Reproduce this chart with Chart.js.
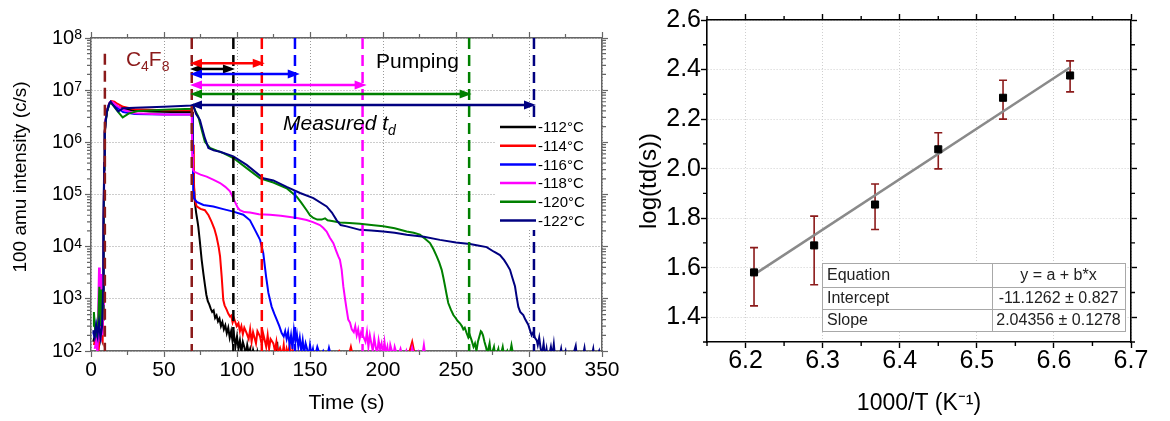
<!DOCTYPE html>
<html>
<head>
<meta charset="utf-8">
<script src="https://cdn.jsdelivr.net/npm/chart.js@4.4.1/dist/chart.umd.min.js"></script>
<style>
    body { margin: 0; background: #fff; }
    .painel { position: absolute; top: 0; }
</style>
</head>
<body>
<canvas id="graficoTempo" class="painel" style="left:0" width="625" height="421"></canvas>
<canvas id="graficoArrhenius" class="painel" style="left:625px" width="545" height="421"></canvas>
<script>
// ---------- dados do painel esquerdo (espectro de massa 100 amu) ----------
const temperaturas = ['-112°C', '-114°C', '-116°C', '-118°C', '-120°C', '-122°C'];
const ticksTempo = [0, 50, 100, 150, 200, 250, 300, 350];
const ticksIntensidade = [1e2, 1e3, 1e4, 1e5, 1e6, 1e7, 1e8];

// [tempo (s), intensidade (c/s)]
const serie112 = [[1.5,150],[3,220],[4.5,130],[6,260],[7.5,170],[8.3,400],[8.7,2e4],[9,3e5],[9.4,1.5e6],[10,2.6e6],[11,4e6],[12.5,5.5e6],[13.5,6e6],[15,5.5e6],[18,4.8e6],[25,4.2e6],[40,3.9e6],[55,3.8e6],[69.3,3.8e6],[69.8,8e5],[70.4,1.6e5],[71.2,6.8e4],[72,4.5e4],[73,3e4],[73.5,2.4e4],[74.5,1.3e4],[75.8,5.6e3],[77,3e3],[78.1,1.8e3],[79,1.2e3],[80,900],[81,780],[82,650],[83,560],[84,600],[85,430],[86,480],[87,370],[88,420],[89,300],[90,360],[91,260],[92,310],[93,220],[94,280],[95,180],[96,240],[97,150],[98,200],[99,125],[100,190],[101,110],[102,160],[103,95],[104,150],[105,120],[106,85],[107,130],[108,90],[109,110],[110,75],[111,105],[112,80],[113,60],[114,95],[115,70],[116,50],[118,80],[120,60],[122,90],[124,55],[126,70],[127.5,150],[128.5,60],[130,80],[132,50],[134,60]];
const serie114 = [[2,130],[3.5,200],[5,90],[6.5,230],[8,160],[8.6,1.5e4],[9,3e5],[9.4,1.5e6],[10,2.7e6],[11,4.2e6],[12.5,5.6e6],[14,6.2e6],[16,6e6],[18,5.5e6],[22,4.8e6],[30,4.3e6],[50,4.1e6],[69.4,4.1e6],[69.9,9e5],[70.4,2e5],[71,8e4],[72.4,5.9e4],[75,5.3e4],[78,5e4],[80.5,4e4],[82.6,3e4],[84.5,2.2e4],[86,1.55e4],[87.4,1e4],[88.4,6.5e3],[89.5,2.7e3],[90.6,950],[91.5,750],[92.9,620],[94,520],[95.2,460],[96,480],[97,350],[98,420],[99.8,300],[101,340],[102,240],[103,300],[104,210],[105,280],[106.6,220],[108,170],[109,260],[110,150],[111,230],[112,180],[113,140],[114,240],[115.8,190],[117,130],[118,210],[119,160],[120,120],[121,200],[122,110],[123,170],[124.9,140],[126,100],[127,150],[128,90],[129.5,115],[131,80],[132,130],[133,70],[134,110],[135,85],[136,130],[137,60],[138,105],[140,75],[142,95],[145,60],[150,80],[155,50],[160,90],[165,60],[170,100],[175,55],[178,120],[180,65],[185,80],[190,50],[200,70],[210,60],[218,95],[220,150],[222,80],[226,60],[230,70]];
const serie116 = [[1.5,230],[2.5,180],[3.5,290],[4.5,160],[5.5,300],[6.5,200],[7.5,350],[8.2,600],[8.6,2e4],[9,3e5],[9.4,1.5e6],[10,2.6e6],[11,4e6],[12.5,5.5e6],[13.5,6e6],[15,5.6e6],[18,4.6e6],[22,3.8e6],[30,3.5e6],[50,3.4e6],[69.3,3.4e6],[69.7,1e6],[70,1.15e5],[70.5,8.5e4],[72.4,7.2e4],[77,6.3e4],[83.8,5.9e4],[90.6,5.25e4],[97.5,4.7e4],[104.3,4.1e4],[108.9,3.2e4],[112.3,2.1e4],[115.8,1.35e4],[118,7.5e3],[119.9,2.7e3],[121.5,1.3e3],[123.7,710],[125.5,520],[127.2,400],[129,300],[130.6,220],[132,190],[133,240],[134,170],[135,230],[136,130],[137,200],[138,110],[139,250],[140,150],[141,210],[142,120],[143,180],[144,100],[145,160],[146,90],[147,140],[148,110],[149,75],[150,130],[151,85],[152,110],[153,70],[155,120],[157,80],[159,100],[161,65],[163,115],[165,70],[167,90],[169,60],[170,50]];
const serie118 = [[2.5,110],[3.5,150],[4.5,90],[5,800],[5.5,4000],[6,1200],[6.5,150],[7.2,3000],[7.8,200],[8.4,800],[8.8,3e4],[9.1,3e5],[9.5,1.5e6],[10,2.6e6],[11,4e6],[12.5,5.5e6],[13.5,6e6],[15,5.8e6],[18,5e6],[22,4.2e6],[30,3.6e6],[50,3.4e6],[69,3.4e6],[69.3,6e5],[69.8,3e5],[70.5,2.75e5],[75,2.4e5],[79.2,2.2e5],[84,1.9e5],[88.4,1.66e5],[92,1.4e5],[95.2,1.15e5],[97,9e4],[98.6,7.2e4],[100.5,5.6e4],[102,5e4],[105,4.6e4],[108.9,4.5e4],[115,4.2e4],[122.6,4.07e4],[130,3.9e4],[136.3,3.7e4],[142,3.5e4],[147.7,3.25e4],[152,2.95e4],[156.8,2.6e4],[159,2.3e4],[161.4,1.95e4],[163.5,1.5e4],[166,1.17e4],[167.8,8.5e3],[169.4,6.5e3],[170.5,5.6e3],[171.7,3.6e3],[172.8,1.75e3],[174,1e3],[175,650],[176.2,400],[177.4,350],[178.6,260],[180,230],[181,300],[182,200],[183,260],[184,170],[185,230],[186.5,190],[188,150],[189,230],[190,120],[191,200],[192,140],[193,100],[194,180],[195,120],[196,90],[197,160],[198,110],[199,140],[200,85],[201,150],[202,90],[203,120],[204,70],[205,130],[207,80],[208,120],[210,75],[212,110],[214,65],[216,100],[218,60],[220,115],[222,70],[224,95],[226,55],[228,130],[229,80],[231,60]];
const serie120 = [[1.5,300],[2,560],[2.8,250],[4,200],[5,400],[5.7,1700],[6.3,300],[7,1500],[7.8,400],[8.3,900],[8.7,2e4],[9,3e5],[9.4,1.4e6],[10,2.4e6],[11,3.8e6],[12.5,5.3e6],[13.5,5.8e6],[15,5.2e6],[18,4e6],[21.7,3e6],[26,3.6e6],[32,4e6],[50,4.2e6],[69.3,4.4e6],[70,5e6],[71.5,4e6],[73.5,3.1e6],[75.8,1.74e6],[78,1.02e6],[81.5,7.8e5],[90.6,6.2e5],[97.5,5e5],[106.6,3.2e5],[115.8,2.05e5],[124.9,1.7e5],[134,1.32e5],[140.9,9.1e4],[144,7e4],[147.7,5e4],[150,4e4],[152.3,3.55e4],[155,3.3e4],[158,3.3e4],[160.3,3.5e4],[162,3.2e4],[165,3.1e4],[170.5,2.9e4],[177,2.85e4],[184.2,2.75e4],[192,2.6e4],[200.2,2.45e4],[208,2.25e4],[216.2,1.95e4],[221,1.85e4],[225.3,1.7e4],[229,1.4e4],[232.2,1.17e4],[234.5,9e3],[236.8,6.5e3],[238.5,5e3],[240.2,3.6e3],[241.4,2.5e3],[242.5,1.74e3],[243.6,1.2e3],[244.7,830],[246.5,620],[248.2,490],[250,420],[251,380],[252.7,340],[254,300],[255,260],[256,280],[257.3,220],[258.5,180],[259.5,200],[260.7,160],[262,120],[263,140],[264,100],[265,150],[266,190],[267,240],[267.6,230],[268.5,200],[269.5,150],[270.5,120],[271.5,90],[273,140],[274,80],[276,120],[277,75],[279,110],[280,70],[282,120],[283,80],[285,100],[286,65],[288,130],[289,90],[290,70]];
const serie122 = [[1.5,250],[2.5,190],[3.5,320],[4.5,200],[5.5,350],[6.5,180],[7.5,280],[8.3,1500],[8.6,3e4],[9,4e5],[9.5,1.7e6],[10.2,2.7e6],[11,4e6],[12.5,5.5e6],[13.5,6e6],[15,5.2e6],[18.7,3.9e6],[22,4.5e6],[30,4.6e6],[50,4.8e6],[69.3,5.1e6],[70,5.2e6],[72,3.5e6],[74.6,2.7e6],[76.5,1.7e6],[78,1.2e6],[80.4,7.8e5],[84,7e5],[88.4,6.6e5],[97.5,5.4e5],[106.6,3.7e5],[118,2.05e5],[124.9,1.86e5],[134,1.4e5],[143.2,1.07e5],[152.3,8.5e4],[161.4,5.9e4],[165,4.5e4],[168.3,3.2e4],[171,2.6e4],[175.1,2.45e4],[184.2,2.1e4],[192,2.05e4],[200.2,1.95e4],[208,1.85e4],[216.2,1.7e4],[228,1.55e4],[239,1.35e4],[250,1.2e4],[259.6,1.12e4],[265,1.05e4],[271,9.8e3],[276,8e3],[280.1,6.9e3],[283,5.5e3],[285,4.5e3],[287,3.6e3],[288.5,2.6e3],[290.4,1.74e3],[291.5,1.1e3],[292.7,700],[294,560],[296.1,490],[297.5,400],[299.5,320],[300.5,260],[301.8,200],[303,230],[304,180],[305.3,160],[306,130],[307,180],[308,110],[309,90],[310,140],[311,75],[312,110],[313,65],[315,120],[316,80],[317,135],[318,70],[320,60],[322,110],[323,70],[325,100],[326,60],[330,80],[332,125],[333,70],[336,60],[338,115],[339,70],[342,60],[344,110],[345,65],[348,100],[349,60]];

// inicio / fim da injecao de C4F8 e tempos de dessorcao medidos (s)
const tempoInjecao = [9.5, 69];
const topoInjecao = [5e7, 1e8];
const tempoDessorcao = [97.5, 117, 139.7, 186, 259, 303.4];
const inicioSeta = 67.8;
const fimSeta = [98.6, 119, 143, 188.8, 260.7, 304.8];
const alturaSeta = [2.55e7, 3.27e7, 2.04e7, 1.26e7, 8.45e6, 5.2e6];

// ---------- dados do painel direito (Arrhenius) ----------
const ticksInvT = [6.2, 6.3, 6.4, 6.5, 6.6, 6.7];
const ticksLogTd = [1.4, 1.6, 1.8, 2.0, 2.2, 2.4, 2.6];
const invT = [6.211, 6.289, 6.368, 6.45, 6.534, 6.621];
const logTd = [1.581, 1.690, 1.855, 2.078, 2.286, 2.376];
const erroAlto = [1.681, 1.808, 1.938, 2.145, 2.357, 2.435];
const erroBaixo = [1.446, 1.531, 1.754, 1.999, 2.200, 2.310];
const ajusteX = [6.21, 6.621];
const ajusteY = [1.570, 2.408];
const tabelaNomes = ['Equation', 'Intercept', 'Slope'];
const tabelaValores = ['y = a + b*x', '-11.1262 ± 0.827', '2.04356 ± 0.1278'];

// ---------- estilos ----------
const coresSerie = ['#000000', '#ff0000', '#0000ff', '#ff00ff', '#008000', '#000080'];
const corInjecao = '#8b1a1a';
const fonte = "'Liberation Sans', Arial, sans-serif";

Chart.defaults.font.family = fonte;
Chart.defaults.color = '#000';

function fixarLargura(w) { return function (s) { s.width = w; }; }
function fixarAltura(h) { return function (s) { s.height = h; }; }
function usarTicks(lista) { return function (s) { s.ticks = lista.map(v => ({ value: v })); }; }

const ticksMenores = {
    id: 'ticksMenores',
    afterDraw(chart, args, opts) {
        const { ctx, chartArea: a, scales } = chart;
        ctx.save();
        ctx.strokeStyle = opts.cor;
        ctx.lineWidth = opts.largura;
        ctx.beginPath();
        opts.x.forEach(v => {
            const px = scales.x.getPixelForValue(v);
            ctx.moveTo(px, a.bottom); ctx.lineTo(px, a.bottom + opts.comp);
            ctx.moveTo(px, a.top); ctx.lineTo(px, a.top - opts.comp);
        });
        opts.y.forEach(v => {
            const py = scales.y.getPixelForValue(v);
            ctx.moveTo(a.left, py); ctx.lineTo(a.left - opts.comp, py);
            ctx.moveTo(a.right, py); ctx.lineTo(a.right + opts.comp, py);
        });
        ctx.stroke();
        ctx.restore();
    }
};

// rotulos 10^n do eixo log
const rotulosLog = {
    id: 'rotulosLog',
    afterDraw(chart) {
        const { ctx, chartArea: a, scales } = chart;
        ctx.save();
        ctx.fillStyle = '#000';
        ctx.textAlign = 'left';
        ticksIntensidade.forEach(v => {
            const e = String(Math.round(Math.log10(v)));
            const py = scales.y.getPixelForValue(v);
            ctx.font = '14px ' + fonte;
            const wE = ctx.measureText(e).width;
            ctx.font = '20px ' + fonte;
            const wB = ctx.measureText('10').width;
            const xFim = a.left - 9;
            ctx.textBaseline = 'middle';
            ctx.fillText('10', xFim - wE - wB, py);
            ctx.font = '14px ' + fonte;
            ctx.textBaseline = 'alphabetic';
            ctx.fillText(e, xFim - wE, py + 1);
        });
        // titulo do eixo y (deslocado para cima como no original)
        ctx.translate(21, a.top + 139);
        ctx.rotate(-Math.PI / 2);
        ctx.font = '19px ' + fonte;
        ctx.textAlign = 'center';
        ctx.textBaseline = 'middle';
        ctx.fillText('100 amu intensity (c/s)', 0, 0);
        ctx.restore();
    }
};

function seta(ctx, x1, x2, py, cor) {
    const L = 12, h = 4.5;
    ctx.strokeStyle = cor;
    ctx.fillStyle = cor;
    ctx.lineWidth = 2.5;
    ctx.beginPath(); ctx.moveTo(x1 + L - 1, py); ctx.lineTo(x2 - L + 1, py); ctx.stroke();
    ctx.beginPath(); ctx.moveTo(x1, py); ctx.lineTo(x1 + L, py - h); ctx.lineTo(x1 + L, py + h); ctx.closePath(); ctx.fill();
    ctx.beginPath(); ctx.moveTo(x2, py); ctx.lineTo(x2 - L, py - h); ctx.lineTo(x2 - L, py + h); ctx.closePath(); ctx.fill();
}

function textoComIndice(ctx, partes, x, y, cor, italico) {
    // partes: [texto, indice?] alternados
    let cx = x;
    ctx.fillStyle = cor;
    ctx.textBaseline = 'alphabetic';
    ctx.textAlign = 'left';
    partes.forEach((p, i) => {
        const sub = i % 2 === 1;
        ctx.font = (italico ? 'italic ' : '') + (sub ? '14px ' : '21px ') + fonte;
        ctx.fillText(p, cx, sub ? y + 5 : y);
        cx += ctx.measureText(p).width;
    });
}

const anotacoesEsq = {
    id: 'anotacoesEsq',
    afterDatasetsDraw(chart) {
        const { ctx, chartArea: a, scales: { x, y } } = chart;
        ctx.save();
        ctx.lineWidth = 2.5;
        ctx.setLineDash([11, 6]);
        tempoInjecao.forEach((t, i) => {
            const px = x.getPixelForValue(t);
            ctx.strokeStyle = corInjecao;
            ctx.beginPath(); ctx.moveTo(px, y.getPixelForValue(topoInjecao[i])); ctx.lineTo(px, a.bottom); ctx.stroke();
        });
        tempoDessorcao.forEach((t, i) => {
            const px = x.getPixelForValue(t);
            ctx.strokeStyle = coresSerie[i];
            ctx.beginPath(); ctx.moveTo(px, a.top); ctx.lineTo(px, a.bottom); ctx.stroke();
        });
        ctx.setLineDash([]);

        alturaSeta.forEach((v, i) => {
            seta(ctx, x.getPixelForValue(inicioSeta), x.getPixelForValue(fimSeta[i]), y.getPixelForValue(v), coresSerie[i]);
        });

        textoComIndice(ctx, ['C', '4', 'F', '8'], x.getPixelForValue(23.9), y.getPixelForValue(2.95e7), corInjecao, false);
        textoComIndice(ctx, ['Pumping'], x.getPixelForValue(195.2), y.getPixelForValue(2.63e7), '#000', false);
        textoComIndice(ctx, ['Measured t', 'd'], x.getPixelForValue(131.5), y.getPixelForValue(1.74e6), '#000', true);

        // legenda
        const lx = a.left + 404, ly = a.top + 79;
        ctx.fillStyle = '#fff';
        ctx.fillRect(lx, ly, 105, 113);
        ctx.font = '15px ' + fonte;
        ctx.textBaseline = 'middle';
        temperaturas.forEach((nome, i) => {
            const py = ly + 10 + i * 18.7;
            ctx.strokeStyle = coresSerie[i];
            ctx.lineWidth = 2.5;
            ctx.beginPath(); ctx.moveTo(lx + 5, py); ctx.lineTo(lx + 41, py); ctx.stroke();
            ctx.fillStyle = '#000';
            ctx.fillText(nome, lx + 43, py + 1);
        });
        ctx.restore();
    }
};

const seriesTempo = [serie112, serie114, serie116, serie118, serie120, serie122];
const datasetsTempo = seriesTempo.map((serie, i) => ({
    label: temperaturas[i],
    data: serie.map(p => ({ x: p[0], y: p[1] })),
    borderColor: coresSerie[i],
    borderWidth: 2,
    pointRadius: 0,
    tension: 0,
    order: 6 - i
}));

const menoresLog = [];
for (let k = 2; k < 8; k++) for (let m = 2; m < 10; m++) menoresLog.push(m * Math.pow(10, k));

const eixoCor = '#666';
const configTempo = {
    type: 'line',
    data: { datasets: datasetsTempo },
    options: {
        responsive: false,
        animation: false,
        events: [],
        layout: { padding: { top: 32, right: 17, bottom: 0, left: 0 } },
        plugins: {
            legend: { display: false },
            tooltip: { enabled: false },
            ticksMenores: { x: [25, 75, 125, 175, 225, 275, 325], y: menoresLog, comp: 4, cor: eixoCor, largura: 1.2 }
        },
        scales: {
            x: {
                type: 'linear', position: 'bottom', min: 0, max: 350,
                afterBuildTicks: usarTicks(ticksTempo),
                afterFit: fixarAltura(70),
                ticks: { font: { size: 21, lineHeight: 1 }, padding: 3, maxRotation: 0, autoSkip: false },
                grid: { color: '#9a9a9a', lineWidth: 1, tickLength: 6, tickColor: eixoCor, tickWidth: 1.2 },
                border: { color: eixoCor, width: 1.5, dash: [1, 2] },
                title: { display: true, text: 'Time (s)', font: { size: 21 }, padding: { top: 0, bottom: 5 } }
            },
            x2: {
                type: 'linear', position: 'top', min: 0, max: 350,
                afterBuildTicks: usarTicks(ticksTempo),
                afterFit: fixarAltura(6),
                ticks: { display: false },
                grid: { drawOnChartArea: false, tickLength: 6, tickColor: eixoCor, tickWidth: 1.2 },
                border: { color: eixoCor, width: 1.5 }
            },
            y: {
                type: 'logarithmic', position: 'left', min: 100, max: 1e8,
                afterBuildTicks: usarTicks(ticksIntensidade),
                afterFit: fixarLargura(91),
                ticks: { display: false },
                grid: { color: '#9a9a9a', lineWidth: 1, tickLength: 6, tickColor: eixoCor, tickWidth: 1.2 },
                border: { color: eixoCor, width: 1.5, dash: [1, 2] }
            },
            y2: {
                type: 'logarithmic', position: 'right', min: 100, max: 1e8,
                afterBuildTicks: usarTicks(ticksIntensidade),
                afterFit: fixarLargura(6),
                ticks: { display: false },
                grid: { drawOnChartArea: false, tickLength: 6, tickColor: eixoCor, tickWidth: 1.2 },
                border: { color: eixoCor, width: 1.5 }
            }
        }
    },
    plugins: [ticksMenores, rotulosLog, anotacoesEsq]
};

new Chart(document.getElementById('graficoTempo'), configTempo);

// ---------- painel direito ----------
const barrasErro = {
    id: 'barrasErro',
    beforeDatasetsDraw(chart) {
        const { ctx, scales: { x, y } } = chart;
        ctx.save();
        ctx.strokeStyle = corInjecao;
        ctx.lineWidth = 1.6;
        invT.forEach((v, i) => {
            const px = x.getPixelForValue(v);
            const y1 = y.getPixelForValue(erroAlto[i]);
            const y2 = y.getPixelForValue(erroBaixo[i]);
            ctx.beginPath();
            ctx.moveTo(px, y1); ctx.lineTo(px, y2);
            ctx.moveTo(px - 4, y1); ctx.lineTo(px + 4, y1);
            ctx.moveTo(px - 4, y2); ctx.lineTo(px + 4, y2);
            ctx.stroke();
        });
        ctx.restore();
    }
};

const tabelaAjuste = {
    id: 'tabelaAjuste',
    afterDraw(chart) {
        const { ctx, chartArea: a } = chart;
        const tx = a.left + 115, ty = a.top + 243, tw = 303, th = 68;
        const linhas = [0, 24, 46, 68];
        const divisor = 170;
        ctx.save();
        ctx.fillStyle = '#fff';
        ctx.fillRect(tx, ty, tw, th);
        ctx.strokeStyle = '#a8a8a8';
        ctx.lineWidth = 1;
        ctx.strokeRect(tx + 0.5, ty + 0.5, tw, th);
        ctx.beginPath();
        ctx.moveTo(tx + divisor + 0.5, ty); ctx.lineTo(tx + divisor + 0.5, ty + th);
        [1, 2].forEach(r => { ctx.moveTo(tx, ty + linhas[r] + 0.5); ctx.lineTo(tx + tw, ty + linhas[r] + 0.5); });
        ctx.stroke();
        ctx.font = '16px ' + fonte;
        ctx.fillStyle = '#222';
        ctx.textBaseline = 'middle';
        tabelaNomes.forEach((nome, r) => {
            const cy = ty + (linhas[r] + linhas[r + 1]) / 2 + 1;
            ctx.textAlign = 'left';
            ctx.fillText(nome, tx + 5, cy);
            ctx.textAlign = 'center';
            ctx.fillText(tabelaValores[r], tx + divisor + (tw - divisor) / 2, cy);
        });
        ctx.restore();
    }
};

const configArrhenius = {
    type: 'scatter',
    data: {
        datasets: [
            {
                label: 'log(td)',
                data: invT.map((v, i) => ({ x: v, y: logTd[i] })),
                pointStyle: 'rect',
                pointRadius: 5,
                backgroundColor: '#000',
                borderColor: '#000',
                order: 0
            },
            {
                label: 'ajuste',
                data: ajusteX.map((v, i) => ({ x: v, y: ajusteY[i] })),
                showLine: true,
                pointRadius: 0,
                borderColor: '#8a8a8a',
                borderWidth: 2.5,
                order: 1
            }
        ]
    },
    options: {
        responsive: false,
        animation: false,
        events: [],
        layout: { padding: { top: 13, right: 32, bottom: 0, left: 0 } },
        plugins: {
            legend: { display: false },
            tooltip: { enabled: false },
            ticksMenores: { x: [6.15, 6.25, 6.35, 6.45, 6.55, 6.65], y: [1.3, 1.5, 1.7, 1.9, 2.1, 2.3, 2.5], comp: 4, cor: '#000', largura: 1.4 }
        },
        scales: {
            x: {
                type: 'linear', position: 'bottom', min: 6.15, max: 6.7,
                afterBuildTicks: usarTicks(ticksInvT),
                afterFit: fixarAltura(79),
                ticks: { font: { size: 25, lineHeight: 1 }, padding: 1, maxRotation: 0, autoSkip: false, callback: v => v.toFixed(1) },
                grid: { color: '#cfcfcf', lineWidth: 1, tickLength: 6, tickColor: '#000', tickWidth: 1.4 },
                border: { color: '#000', width: 1.6, dash: [1, 2] },
                title: { display: true, text: '1000/T (K⁻¹)', font: { size: 23 }, padding: { top: 0, bottom: 4 } }
            },
            x2: {
                type: 'linear', position: 'top', min: 6.15, max: 6.7,
                afterBuildTicks: usarTicks(ticksInvT),
                afterFit: fixarAltura(7),
                ticks: { display: false },
                grid: { drawOnChartArea: false, tickLength: 6, tickColor: '#000', tickWidth: 1.4 },
                border: { color: '#000', width: 1.6 }
            },
            y: {
                type: 'linear', position: 'left', min: 1.3, max: 2.6,
                afterBuildTicks: usarTicks(ticksLogTd),
                afterFit: fixarLargura(82),
                ticks: { font: { size: 25, lineHeight: 1 }, padding: 0, callback: v => v.toFixed(1) },
                grid: { color: '#cfcfcf', lineWidth: 1, tickLength: 6, tickColor: '#000', tickWidth: 1.4 },
                border: { color: '#000', width: 1.6, dash: [1, 2] },
                title: { display: true, text: 'log(td(s))', font: { size: 24 }, padding: { top: 10, bottom: 0 } }
            },
            y2: {
                type: 'linear', position: 'right', min: 1.3, max: 2.6,
                afterBuildTicks: usarTicks(ticksLogTd),
                afterFit: fixarLargura(7),
                ticks: { display: false },
                grid: { drawOnChartArea: false, tickLength: 6, tickColor: '#000', tickWidth: 1.4 },
                border: { color: '#000', width: 1.6 }
            }
        }
    },
    plugins: [ticksMenores, barrasErro, tabelaAjuste]
};

new Chart(document.getElementById('graficoArrhenius'), configArrhenius);
</script>
</body>
</html>
